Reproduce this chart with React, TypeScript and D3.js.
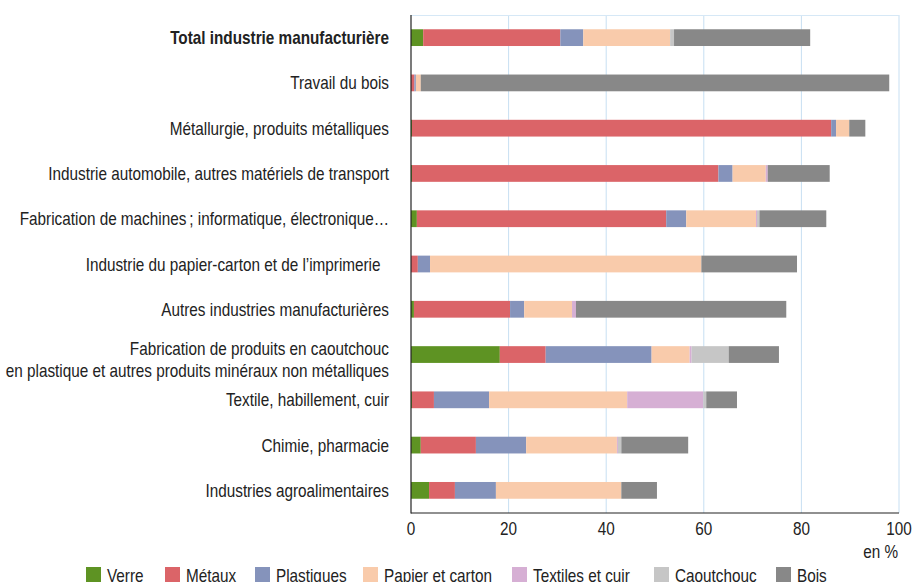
import React from 'react';
import * as d3 from 'd3';

const categories = [
  'Total industrie manufacturière',
  'Travail du bois',
  'Métallurgie, produits métalliques',
  'Industrie automobile, autres matériels de transport',
  'Fabrication de machines\u2009; informatique, électronique…',
  'Industrie du papier-carton et de l’imprimerie\u00a0\u00a0',
  'Autres industries manufacturières',
  'Fabrication de produits en caoutchouc\nen plastique et autres produits minéraux non métalliques',
  'Textile, habillement, cuir',
  'Chimie, pharmacie',
  'Industries agroalimentaires',
];

const seriesNames = ['Verre', 'Métaux', 'Plastiques', 'Papier et carton', 'Textiles et cuir', 'Caoutchouc', 'Bois'];
const colors = ['#5e9323', '#db6468', '#8593bb', '#f9cbab', '#d6afd4', '#c6c6c6', '#888888'];

const verre = [2.5, 0, 0.2, 0.2, 1.2, 0, 0.6, 18.2, 0.2, 2.0, 3.7];
const metaux = [28.1, 0.7, 85.9, 62.8, 51.1, 1.4, 19.7, 9.4, 4.5, 11.3, 5.3];
const plastiques = [4.7, 0.3, 1.0, 2.9, 4.1, 2.5, 2.9, 21.7, 11.3, 10.3, 8.4];
const papier = [17.8, 1.0, 2.7, 6.8, 14.3, 55.6, 9.8, 7.8, 28.3, 18.6, 25.7];
const textiles = [0, 0, 0, 0.4, 0.2, 0, 0.8, 0.4, 15.6, 0.2, 0];
const caoutchouc = [0.8, 0, 0, 0, 0.5, 0, 0, 7.6, 0.6, 0.7, 0];
const bois = [27.9, 96.0, 3.3, 12.7, 13.7, 19.6, 43.1, 10.3, 6.3, 13.7, 7.3];

const xTicks = [0, 20, 40, 60, 80, 100];

// condensed look: regular sans squeezed horizontally
const SX = 0.85;
function T(props: { x: number; y: number; anchor?: string; bold?: boolean; children: any }) {
  return (
    <text
      transform={`translate(${props.x},${props.y}) scale(${SX},1)`}
      textAnchor={props.anchor || 'start'}
      fontSize={18}
      fill="#222"
      fontWeight={props.bold ? 'bold' : 'normal'}
    >
      {props.children}
    </text>
  );
}

export default function App() {
  const width = 913, height = 582;
  const top = 15, bottom = 513;
  const plotLeft = 411, plotRight = 899;

  const series = [verre, metaux, plastiques, papier, textiles, caoutchouc, bois];
  const rows = categories.map((c, i) => {
    const r: any = { cat: c };
    seriesNames.forEach((s, j) => { r[s] = series[j][i]; });
    return r;
  });
  const stacked = d3.stack().keys(seriesNames)(rows);

  const x = d3.scaleLinear().domain([0, 100]).range([plotLeft, plotRight]);
  const y = d3.scaleBand().domain(categories).range([top, bottom]).paddingInner(0.63).paddingOuter(0.315);
  const font = '"Liberation Sans Narrow", "Liberation Sans", Arial, sans-serif';

  return (
    <svg width={width} height={height} style={{ display: 'block', position: 'absolute', left: 0, top: 0 }} fontFamily={font}>
      <rect x={0} y={0} width={width} height={height} fill="#fff" />
      {/* gridlines */}
      {xTicks.slice(1).map(t => (
        <line key={t} x1={x(t)} x2={x(t)} y1={top} y2={bottom} stroke="#c7dff2" strokeWidth={1} />
      ))}
      <line x1={plotLeft} x2={x(100)} y1={top + 0.5} y2={top + 0.5} stroke="#d6e8f6" />
      {/* bars */}
      {stacked.map((s, j) => (
        <g key={s.key} fill={colors[j]}>
          {s.map((d, i) => (
            <rect key={i} x={x(d[0])} y={y(categories[i])} width={Math.max(0, x(d[1]) - x(d[0]))} height={y.bandwidth()} />
          ))}
        </g>
      ))}
      {/* axes */}
      <line x1={plotLeft} x2={plotLeft} y1={top} y2={bottom + 0.5} stroke="#222" strokeWidth={1.2} />
      <line x1={plotLeft} x2={x(100)} y1={bottom} y2={bottom} stroke="#222" strokeWidth={1.2} />
      {xTicks.map(t => (
        <T key={t} x={x(t)} y={534.5} anchor="middle">{t}</T>
      ))}
      <T x={x(100) - 1} y={557.5} anchor="end">en %</T>
      {/* category labels */}
      {categories.map((c, i) => {
        const lines = c.split('\n');
        const cy = (y(c) as number) + y.bandwidth() / 2;
        if (lines.length === 1) {
          return <T key={c} x={389} y={cy + 6.5} anchor="end" bold={i === 0}>{c}</T>;
        }
        return (
          <g key={c}>
            {lines.map((l, k) => (
              <T key={k} x={389} y={cy + 0.5 + k * 22} anchor="end">{l}</T>
            ))}
          </g>
        );
      })}
      {/* legend */}
      {seriesNames.map((s, j) => {
        const lx = [86, 165, 255, 363, 512, 654, 776][j];
        return (
          <g key={s}>
            <rect x={lx} y={567} width={15} height={15} fill={colors[j]} />
            <T x={lx + 21} y={581.5}>{s}</T>
          </g>
        );
      })}
    </svg>
  );
}
